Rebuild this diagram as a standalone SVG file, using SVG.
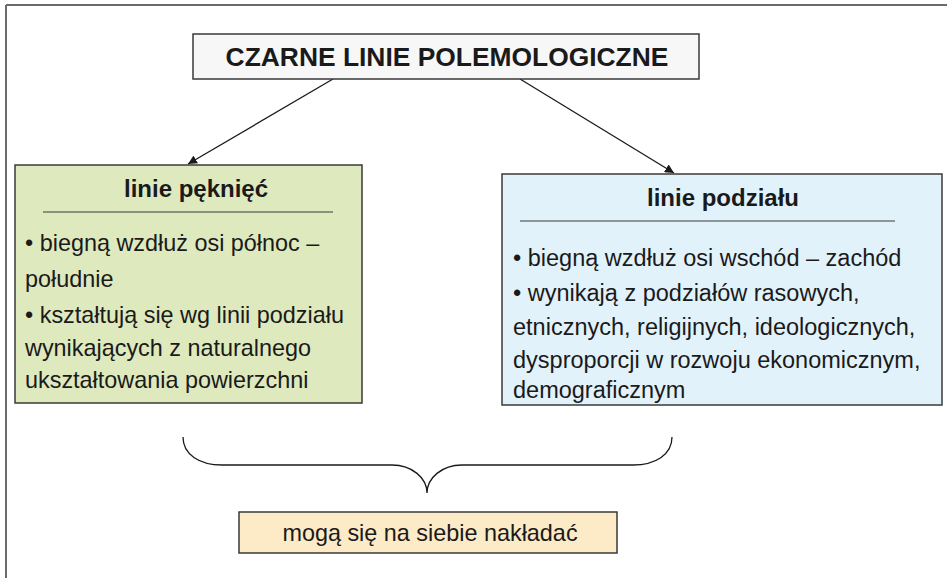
<svg xmlns="http://www.w3.org/2000/svg" width="947" height="578" viewBox="0 0 947 578">
<defs>
<style>
.box{stroke:#3a3a3a;stroke-width:1.5}
.t{font-family:"Liberation Sans",Arial,sans-serif;fill:#1a1a1a}
.hd{font-size:24px;font-weight:bold;text-anchor:middle}
.bd{font-size:23.4px}
.bb{font-size:23.5px}
.conn{stroke:#1a1a1a;stroke-width:1.3;fill:none}
</style>
<marker id="ah" viewBox="0 0 10 10" refX="10" refY="5" markerWidth="9" markerHeight="9" markerUnits="userSpaceOnUse" orient="auto">
<path d="M0,0 L10,5 L0,10 z" fill="#1a1a1a"/>
</marker>
</defs>
<rect width="947" height="578" fill="#ffffff"/>
<g id="frame">
<line x1="6" y1="5" x2="947" y2="5" stroke="#6a6a6a" stroke-width="2"/>
<line x1="6" y1="5" x2="6" y2="578" stroke="#6a6a6a" stroke-width="2"/>
</g>
<g id="connectors">
<line class="conn" x1="333" y1="79" x2="188" y2="164" marker-end="url(#ah)"/>
<line class="conn" x1="520" y1="79" x2="674" y2="173" marker-end="url(#ah)"/>
<path class="conn" d="M183,437 C183,455 200,465 222,465 L392,465 C412,465 427,478 427,493 C427,478 442,465 462,465 L633,465 C655,465 672,455 672,437"/>
</g>
<g id="title">
<rect class="box" x="193" y="34" width="506" height="45" fill="#f7f7f7"/>
<text class="t" x="447" y="66" font-size="26.4" font-weight="bold" text-anchor="middle">CZARNE LINIE POLEMOLOGICZNE</text>
</g>
<g id="linie-pekniec">
<rect class="box" x="15" y="165" width="347" height="238" fill="#dfe9be"/>
<text class="t hd" x="196" y="197">linie pęknięć</text>
<line x1="43" y1="212" x2="333" y2="212" stroke="#3a3a3a" stroke-width="1.2"/>
<text class="t bd" x="25" y="251">• biegną wzdłuż osi północ –</text>
<text class="t bd" x="25" y="287">południe</text>
<text class="t bd" x="25" y="323">• kształtują się wg linii podziału</text>
<text class="t bd" x="25" y="356">wynikających z naturalnego</text>
<text class="t bd" x="25" y="388">ukształtowania powierzchni</text>
</g>
<g id="linie-podzialu">
<rect class="box" x="502" y="174" width="440" height="231" fill="#e2f2fb"/>
<text class="t hd" x="723" y="206">linie podziału</text>
<line x1="520" y1="221" x2="895" y2="221" stroke="#3a3a3a" stroke-width="1.2"/>
<text class="t bb" x="513" y="266">• biegną wzdłuż osi wschód – zachód</text>
<text class="t bb" x="513" y="301">• wynikają z podziałów rasowych,</text>
<text class="t bb" x="513" y="335">etnicznych, religijnych, ideologicznych,</text>
<text class="t bb" x="513" y="368">dysproporcji w rozwoju ekonomicznym,</text>
<text class="t bb" x="513" y="398">demograficznym</text>
</g>
<g id="naklada">
<rect class="box" x="239" y="512" width="378" height="41" fill="#fdebc8"/>
<text class="t bd" x="430" y="541" text-anchor="middle">mogą się na siebie nakładać</text>
</g>
</svg>
